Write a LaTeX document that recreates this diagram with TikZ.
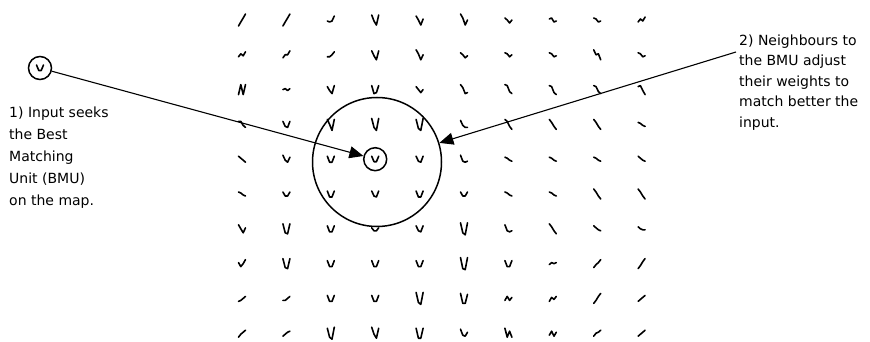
\documentclass[tikz,border=0pt]{standalone}
\usepackage{fontspec}
\setmainfont{DejaVu Sans}
\usetikzlibrary{arrows.meta}
\tikzset{
  glyph/.style={line width=1.6pt,line cap=round,line join=round},
  unit/.style={draw,circle,line width=1.5pt,minimum size=23pt,inner sep=0pt},
  link/.style={line width=1.1pt,-{Triangle[length=14pt,width=12pt]}},
  note/.style={align=left,inner sep=0pt,anchor=west}
}
% one row of weight vectors, four values each
\newcommand{\wrow}[2]{\foreach \a/\b/\c/\d [count=\j] in {#2}
  \draw[glyph,shift={({242+44.4*(\j-1)},{20+34.8*(#1-1)})},yscale=-1] (-3.5,\a)--(-1.2,\b)--(1.2,\c)--(3.5,\d);}
\begin{document}
\begin{tikzpicture}[x=1pt,y=-1pt]
\useasboundingbox (0,0) rectangle (870,342);
\wrow{1}{-6/-2/2/6, -6/-2/2/6, -1/-2/-1/4, 5/-1/-5/5, 4/0/-5/1, 6/2/-5/0, 2/0/-3/0, 1/2/-2/-1, 2/1/-2/-1, -2/1/-1/3}
\wrow{2}{-2/1/-1/3, -3/0/0/4, -2/-2/0/3, 4/-1/-5/4, 5/1/-5/0, 2/0/-3/-1, 2/1/-2/0, 2/1/-2/-1, 5/0/1/-5, 2/1/-2/-1}
\wrow{3}{-5/5/-5/5, 0/1/-1/1, 3/-1/-4/4, 4/-4/-3/4, 3/0/-3/0, 5/2/-4/-3, 5/4/-2/-4, 4/3/-3/-5, 4/3/-2/-4, 3/4/-1/-5}
\wrow{4}{3/3/-1/-3, 3/-2/-3/3, 5/0/-6/5, 6/-3/-6/6, 5/-4/-6/6, 4/-1/-3/-3, 5/3/-2/-5, 5/2/-2/-5, 5/2/-2/-5, 2/1/-1/-2}
\wrow{5}{3/1/-1/-3, 4/-1/-3/2, 3/-3/-3/3, 3/-2.5/-2.5/3, 3/-2/-3/3, 4/-2/-3/-2, 2/1/-1/-2, 2/1/-1/-2, 2/1/-1/-2, 3/1/-1/-2}
\wrow{6}{2/1/-1/-2, 2/-2/-2/2, 3/-3/-3/3, 3/-2/-3/3, 3/-3/-3/3, 2/-2/-2/2, 2/1/-1/-2, 2/1/-1/-2, 5/2/-2/-5, 5/2/-2/-5}
\wrow{7}{4/0/-4/1, 5/-4/-5/5, 3/-3/-3/3, 1/-2/-2/1, 3/-2/-3/3, 6/-4/-6/6, 4/-2/-3/-2, 5/2/-2/-5, 3/1/-1/-2, 2/0/-1/-1}
\wrow{8}{1/-3/0/4, 5/-4/-5/5, 3/-3/-3/3, 3/-3/-3/3, 3/-3/-3/3, 6/-5/-6/6, 3/-3/-3/3, -1/1/0/1, -4/-1/1/4, -5/-2/2/5}
\wrow{9}{-3/-2/0/2, -2/-2/0/2, 3/-3/-3/3, 3/-3/-3/3, 6/-4/-6/6, 5/-5/-5/4, -2/2/-2/1, -3/1/-1/2, -5/-2/2/5, -3/-1/1/3}
\wrow{10}{-4/-1/1/3, -3/-1/1/2, 5/-4/-6/6, 6/-1/-5/5, 5/-5/-5/5, 4/-2/-3/1, 5/-4/2/-4, -2/2/-3/1, -3/0/1/3, -3/-1/1/3}
% input, best matching unit and its neighbourhood
\node[unit] (input) at (40,68) {};
\node[unit] (bmu) at (375.2,159.2) {};
\draw[glyph,shift={(input.center)},yscale=-1] (-3.5,3)--(-1.2,-2.5)--(1.2,-2.5)--(3.5,3);
\node[draw,circle,line width=1.5pt,minimum size=129pt,inner sep=0pt] (nbhd) at (377,162) {};
\coordinate (tail) at (736,52);
\draw[link] (input) -- (bmu);
\draw[link] (tail) -- (nbhd);
\node[note,font=\fontsize{14}{22}\selectfont] (seek) at (9,157.5) {1) Input seeks\\the Best\\Matching\\Unit (BMU)\\on the map.};
\node[note,font=\fontsize{14}{20.5}\selectfont] (adjust) at (739,82.5) {2) Neighbours to\\the BMU adjust\\their weights to\\match better the\\input.};
\end{tikzpicture}
\end{document}
